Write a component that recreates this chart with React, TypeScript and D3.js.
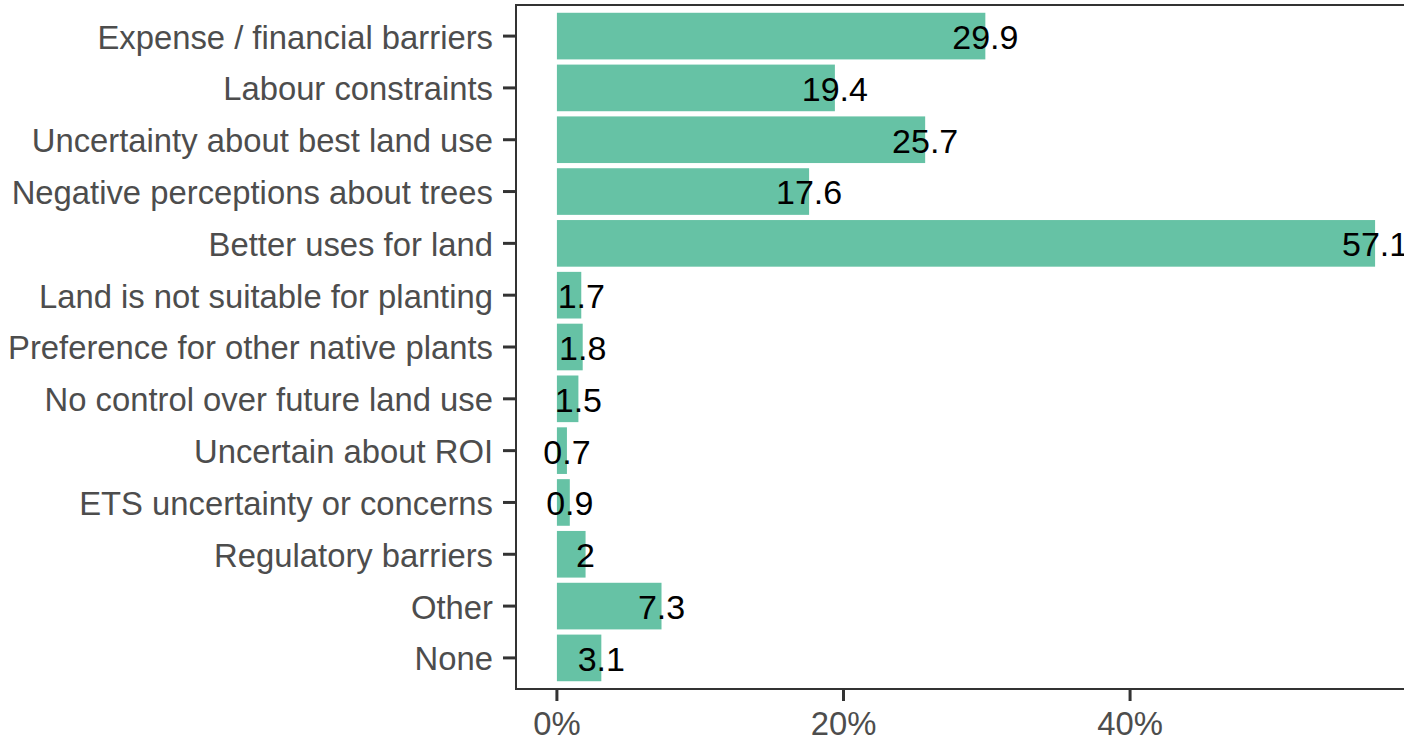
import React from "react";
import * as d3 from "d3";

const categories = [
  "Expense / financial barriers",
  "Labour constraints",
  "Uncertainty about best land use",
  "Negative perceptions about trees",
  "Better uses for land",
  "Land is not suitable for planting",
  "Preference for other native plants",
  "No control over future land use",
  "Uncertain about ROI",
  "ETS uncertainty or concerns",
  "Regulatory barriers",
  "Other",
  "None",
];
const values = [29.9, 19.4, 25.7, 17.6, 57.1, 1.7, 1.8, 1.5, 0.7, 0.9, 2, 7.3, 3.1];
const labels = ["29.9", "19.4", "25.7", "17.6", "57.1", "1.7", "1.8", "1.5", "0.7", "0.9", "2", "7.3", "3.1"];
const xTicks = [0, 20, 40];

const W = 1404;
const H = 741;
const panel = { left: 516, top: 5, right: 1416, bottom: 689 };
const FONT = "'Liberation Sans', Arial, Helvetica, sans-serif";

export default function App() {
  const maxV = d3.max(values) as number;
  const pad = maxV * 0.05;
  const x = d3.scaleLinear().domain([-pad, maxV + pad]).range([panel.left, panel.right]);
  const y = d3
    .scaleBand<string>()
    .domain(categories)
    .range([panel.top, panel.bottom])
    .paddingInner(0.1)
    .paddingOuter(0.15);
  const bw = y.bandwidth();
  const axisColor = "#333333";
  const textColor = "#4d4d4d";

  return (
    <div style={{ position: "fixed", left: 0, top: 0 }}>
      <svg width={W} height={H} style={{ display: "block", background: "#fff" }}>
        {categories.map((c, i) => (
          <rect
            key={c}
            x={x(0)}
            y={y(c)}
            width={x(values[i]) - x(0)}
            height={bw}
            fill="#66C2A5"
          />
        ))}
        {categories.map((c, i) => (
          <text
            key={"l" + c}
            x={x(values[i])}
            y={(y(c) as number) + bw / 2}
            dy="0.38em"
            textAnchor="middle"
            fontFamily={FONT}
            fontSize={34}
            fill="#000"
          >
            {labels[i]}
          </text>
        ))}
        {/* panel border */}
        <rect
          x={panel.left}
          y={panel.top}
          width={panel.right - panel.left}
          height={panel.bottom - panel.top}
          fill="none"
          stroke={axisColor}
          strokeWidth={2}
        />
        {/* y ticks & labels */}
        {categories.map((c) => {
          const cy = (y(c) as number) + bw / 2;
          return (
            <g key={"t" + c}>
              <line x1={panel.left - 13} x2={panel.left} y1={cy} y2={cy} stroke={axisColor} strokeWidth={3} />
              <text
                x={panel.left - 23}
                y={cy}
                dy="0.38em"
                textAnchor="end"
                fontFamily={FONT}
                fontSize={32.8}
                fill={textColor}
              >
                {c}
              </text>
            </g>
          );
        })}
        {/* x ticks & labels */}
        {xTicks.map((t) => (
          <g key={"x" + t}>
            <line x1={x(t)} x2={x(t)} y1={panel.bottom} y2={panel.bottom + 12} stroke={axisColor} strokeWidth={3} />
            <text
              x={x(t)}
              y={735}
              textAnchor="middle"
              fontFamily={FONT}
              fontSize={32.8}
              fill={textColor}
            >
              {t + "%"}
            </text>
          </g>
        ))}
      </svg>
    </div>
  );
}
